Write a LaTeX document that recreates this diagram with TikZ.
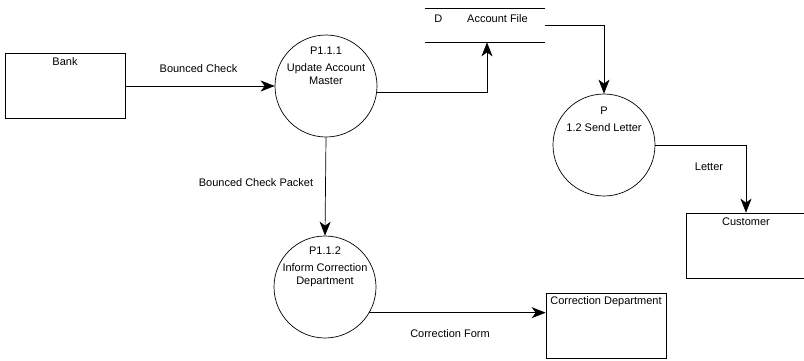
\documentclass[tikz,border=0pt]{standalone}
\usepackage{fontspec}
\setmainfont{Liberation Sans}
\usetikzlibrary{arrows.meta,calc}
\begin{document}
\begin{tikzpicture}[x=1pt,y=-1pt,
  font=\fontsize{11}{13}\selectfont,
  line width=0.7pt,
  flow/.style={draw, -{Stealth[length=14pt,width=11pt,inset=4pt]}},
  entity/.style={draw, rectangle, minimum width=120pt, minimum height=65pt, inner sep=0pt},
  proc/.style={draw, circle, minimum size=102pt, inner sep=0pt},
  lbl/.style={inner sep=1pt}]
\useasboundingbox (0,0) rectangle (804,360);
\clip (0,0) rectangle (804,360);
% entities
\node[entity, label={[anchor=north, inner sep=0pt, yshift=-4pt]north:Bank}] (bank) at (65,86) {};
\node[entity, label={[anchor=north, inner sep=0pt, yshift=-5pt]north:Customer}] (cust) at (746,245.5) {};
\node[entity, label={[anchor=north, inner sep=0pt, yshift=-3pt]north:Correction Department}] (corr) at (606,326) {};
% processes
\node[proc, label={[align=center, yshift=20pt]center:P1.1.1\\[4pt]Update Account\\Master}] (p1) at (326,86) {};
\node[proc, label={[align=center, yshift=20pt]center:P1.1.2\\[4pt]Inform Correction\\Department}] (p2) at (325,287) {};
\node[proc, label={[align=center, yshift=26pt]center:P\\[4pt]1.2 Send Letter}] (p3) at (604,145) {};
% data store
\node[minimum width=120pt, minimum height=33pt, inner sep=0pt,
  label={[xshift=-4pt, yshift=7pt]center:D\hspace{25pt}Account File}] (store) at (485,25.5) {};
\draw (store.north west) -- (store.north east);
\draw (store.south west) -- (store.south east);
% flows
\draw[flow] (bank.east |- p1.west) -- (p1.west);
\draw[flow] (p1.-7) -| ($(store.south)+(2,0)$);
\draw[flow] (store.east) -| (p3.north);
\draw[flow] (p1.south) -- (p2.north);
\draw[flow] (p3.east) -| (cust.north);
\draw[flow] (p2.-30) -- (p2.-30 -| corr.west);
% flow labels
\node[lbl] (l1) at (198.5,69) {Bounced Check};
\node[lbl] (l2) at (256,183) {Bounced Check Packet};
\node[lbl] (l3) at (709,167) {Letter};
\node[lbl] (l4) at (450,334) {Correction Form};
\end{tikzpicture}
\end{document}
